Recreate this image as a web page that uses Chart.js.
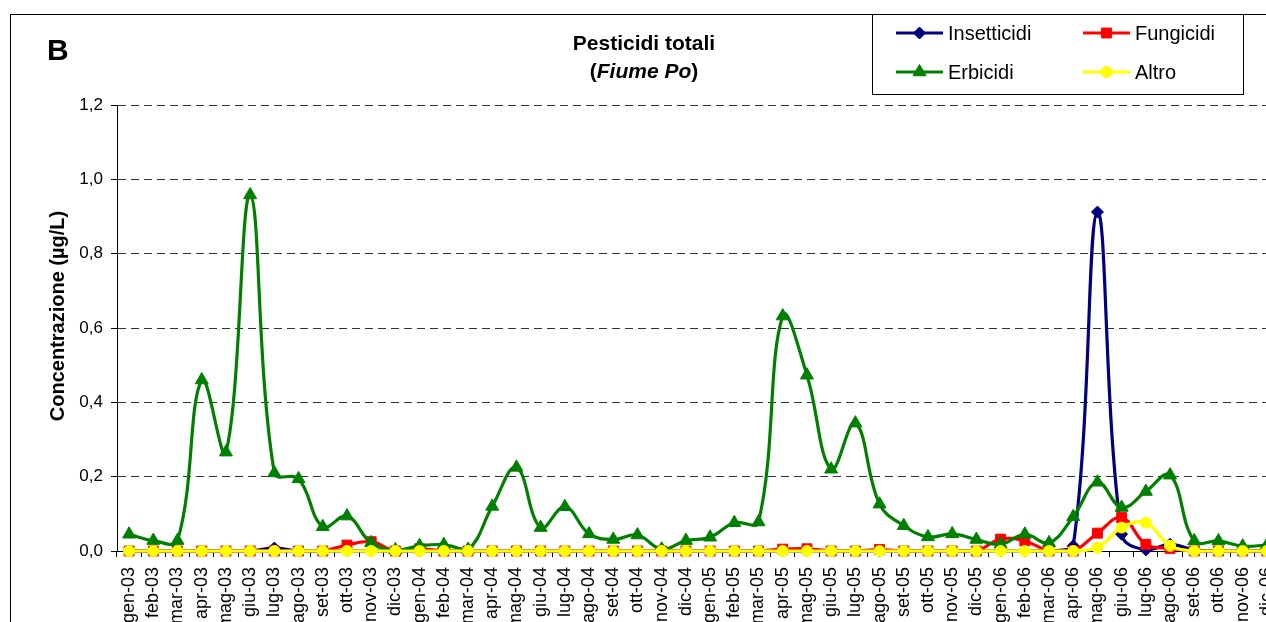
<!DOCTYPE html>
<html lang="it">
<head>
<meta charset="utf-8">
<title>Pesticidi totali (Fiume Po)</title>
<script src="https://cdn.jsdelivr.net/npm/chart.js@4.4.1/dist/chart.umd.min.js"></script>
<style>
  html, body { margin: 0; padding: 0; background: #fff; overflow: hidden; }
  canvas { display: block; }
</style>
</head>
<body>
<canvas id="chart" width="1300" height="700"></canvas>
<script>
const FONT = '"Liberation Sans", Arial, sans-serif';

// mesi di campionamento
const mesi = [
  'gen-03', 'feb-03', 'mar-03', 'apr-03', 'mag-03', 'giu-03', 'lug-03', 'ago-03', 'set-03', 'ott-03', 'nov-03', 'dic-03',
  'gen-04', 'feb-04', 'mar-04', 'apr-04', 'mag-04', 'giu-04', 'lug-04', 'ago-04', 'set-04', 'ott-04', 'nov-04', 'dic-04',
  'gen-05', 'feb-05', 'mar-05', 'apr-05', 'mag-05', 'giu-05', 'lug-05', 'ago-05', 'set-05', 'ott-05', 'nov-05', 'dic-05',
  'gen-06', 'feb-06', 'mar-06', 'apr-06', 'mag-06', 'giu-06', 'lug-06', 'ago-06', 'set-06', 'ott-06', 'nov-06', 'dic-06'
];

// concentrazioni in µg/L
const insetticidi = [
  0, 0, 0, 0, 0, 0, 0.008, 0, 0, 0, 0, 0,
  0, 0, 0, 0, 0, 0, 0, 0, 0, 0, 0, 0,
  0, 0, 0, 0, 0, 0, 0, 0, 0, 0, 0, 0,
  0, 0, 0, 0.014, 0.912, 0.045, 0.003, 0.018, 0.003, 0, 0, 0
];
const fungicidi = [
  0, 0, 0, 0, 0, 0, 0, 0, 0, 0.016, 0.025, 0,
  0.006, 0, 0, 0, 0, 0, 0, 0, 0, 0, 0, 0,
  0, 0, 0, 0.005, 0.006, 0, 0, 0.004, 0, 0, 0, 0,
  0.032, 0.027, 0, 0, 0.048, 0.09, 0.018, 0.007, 0, 0, 0, 0
];
const erbicidi = [
  0.045, 0.028, 0.028, 0.46, 0.266, 0.958, 0.21, 0.194, 0.065, 0.094, 0.022, 0.003,
  0.014, 0.017, 0.004, 0.12, 0.225, 0.063, 0.119, 0.046, 0.031, 0.043, 0.005, 0.028,
  0.037, 0.076, 0.078, 0.632, 0.473, 0.22, 0.344, 0.126, 0.068, 0.038, 0.046, 0.031,
  0.018, 0.045, 0.022, 0.092, 0.185, 0.117, 0.16, 0.204, 0.027, 0.027, 0.013, 0.016
];
const altro = [
  0, 0, 0, 0, 0, 0, 0, 0, 0, 0, 0, 0,
  0, 0, 0, 0, 0, 0, 0, 0, 0, 0, 0, 0,
  0, 0, 0, 0, 0, 0, 0, 0, 0, 0, 0, 0,
  0, 0, 0, 0, 0.009, 0.063, 0.076, 0.014, 0, 0, 0, 0
];

function serie(label, data, color, style, radius, order) {
  return {
    label, data, order,
    borderColor: color, backgroundColor: color,
    pointBackgroundColor: color, pointBorderColor: color,
    pointStyle: style, pointRadius: radius, pointBorderWidth: 1,
    borderWidth: 3.2, tension: 0.4, clip: 10
  };
}

// titolo, lettera del pannello, titolo asse y, legenda e cornice
const decorazioni = {
  id: 'decorazioni',
  afterDraw(chart) {
    const ctx = chart.ctx;
    ctx.save();
    ctx.strokeStyle = '#000';
    ctx.lineWidth = 1;
    ctx.strokeRect(10.5, 14.5, 1400, 800);

    ctx.fillStyle = '#000';
    ctx.textBaseline = 'middle';
    ctx.textAlign = 'left';
    ctx.font = 'bold 30px ' + FONT;
    ctx.fillText('B', 47, 52);

    // titolo su due righe
    const cx = 644;
    ctx.textAlign = 'center';
    ctx.font = 'bold 21px ' + FONT;
    ctx.fillText('Pesticidi totali', cx, 44);
    const parti = [['(', 'bold 21px '], ['Fiume Po', 'italic bold 21px '], [')', 'bold 21px ']];
    let w = 0;
    parti.forEach(p => { ctx.font = p[1] + FONT; w += ctx.measureText(p[0]).width; });
    let x = cx - w / 2;
    ctx.textAlign = 'left';
    parti.forEach(p => {
      ctx.font = p[1] + FONT;
      ctx.fillText(p[0], x, 72);
      x += ctx.measureText(p[0]).width;
    });

    // titolo asse y
    ctx.save();
    ctx.translate(58, 316);
    ctx.rotate(-Math.PI / 2);
    ctx.textAlign = 'center';
    ctx.font = 'bold 20px ' + FONT;
    ctx.fillText('Concentrazione (µg/L)', 0, 0);
    ctx.restore();

    // legenda
    ctx.fillStyle = '#fff';
    ctx.fillRect(872.5, 14.5, 371, 80);
    ctx.strokeStyle = '#000';
    ctx.strokeRect(872.5, 14.5, 371, 80);
    const posti = { 'Insetticidi': [896, 33], 'Fungicidi': [1083, 33], 'Erbicidi': [896, 72], 'Altro': [1083, 72] };
    chart.data.datasets.forEach(ds => {
      const [lx, ly] = posti[ds.label];
      ctx.strokeStyle = ds.borderColor;
      ctx.fillStyle = ds.borderColor;
      ctx.lineWidth = 3;
      ctx.beginPath();
      ctx.moveTo(lx, ly);
      ctx.lineTo(lx + 47, ly);
      ctx.stroke();
      ctx.lineWidth = 1;
      Chart.helpers.drawPoint(ctx, { pointStyle: ds.pointStyle, radius: ds.pointRadius, rotation: 0, borderWidth: 1 }, lx + 23.5, ly);
      ctx.fillStyle = '#000';
      ctx.font = '20px ' + FONT;
      ctx.textAlign = 'left';
      ctx.fillText(ds.label, lx + 52, ly + 1);
    });
    ctx.restore();
  }
};

new Chart(document.getElementById('chart'), {
  type: 'line',
  data: {
    labels: mesi,
    datasets: [
      serie('Insetticidi', insetticidi, '#000080', 'rectRot', 6, 3),
      serie('Fungicidi', fungicidi, '#FF0000', 'rect', 7, 2),
      serie('Erbicidi', erbicidi, '#008000', 'triangle', 7.5, 1),
      serie('Altro', altro, '#FFFF00', 'circle', 5.5, 0)
    ]
  },
  options: {
    responsive: false,
    animation: false,
    layout: { padding: { left: 0, top: 105, right: 21, bottom: 0 } },
    plugins: { legend: { display: false }, tooltip: { enabled: false } },
    scales: {
      x: {
        offset: true,
        afterFit(s) { s.height = 149; },
        grid: { display: true, drawOnChartArea: false, drawTicks: true, tickLength: 6, offset: true, color: '#000', tickColor: '#000' },
        border: { display: true, color: '#000', width: 1 },
        ticks: { autoSkip: false, maxRotation: 90, minRotation: 90, color: '#000', font: { family: FONT, size: 18 }, padding: 10 }
      },
      y: {
        min: 0, max: 1.2,
        afterFit(s) { s.width = 117; },
        grid: { color: '#333', lineWidth: 1, tickLength: 6, tickColor: '#000', tickBorderDash: [] },
        border: { display: true, color: '#000', width: 1, dash: [8, 5] },
        ticks: { stepSize: 0.2, color: '#000', font: { family: FONT, size: 17 }, padding: 8,
          callback: v => v.toFixed(1).replace('.', ',') }
      }
    }
  },
  plugins: [decorazioni]
});
</script>
</body>
</html>
